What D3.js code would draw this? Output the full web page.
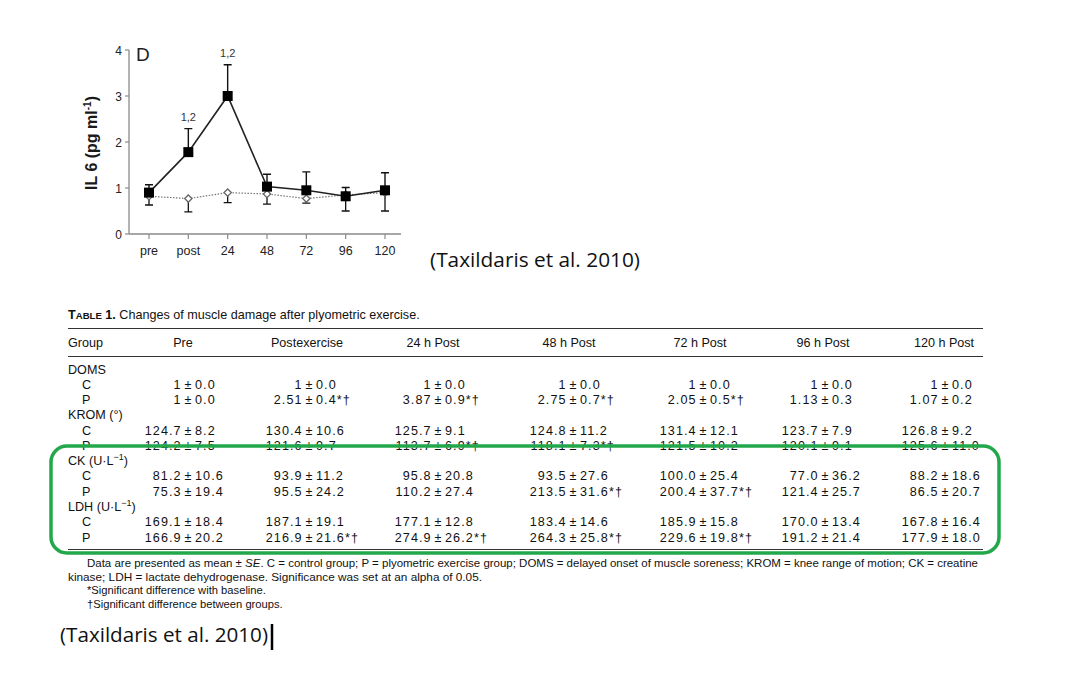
<!DOCTYPE html>
<html>
<head>
<meta charset="utf-8">
<script src="https://cdn.jsdelivr.net/npm/d3@7"></script>
<style>
body{margin:0;background:#fff;}
svg{display:block;}
</style>
</head>
<body>
<div id="chart"></div>
<script>
// IL-6 panel D
var times = ["pre","post","24","48","72","96","120"];
var plyoMean = [0.9, 1.78, 3.0, 1.03, 0.95, 0.82, 0.95];
var plyoUp   = [1.07, 2.29, 3.68, 1.3, 1.35, 1.01, 1.33];
var ctrlMean = [0.82, 0.77, 0.9, 0.87, 0.77, 0.85, 0.9];
var ctrlDown = [0.63, 0.48, 0.68, 0.65, 0.67, 0.5, 0.5];
var sigLabels = [null, "1,2", "1,2", null, null, null, null];
var yTicks = [0,1,2,3,4];

// table 1
var colHeads = ["Pre","Postexercise","24 h Post","48 h Post","72 h Post","96 h Post","120 h Post"];
var domsC = ["1 ± 0.0","1 ± 0.0","1 ± 0.0","1 ± 0.0","1 ± 0.0","1 ± 0.0","1 ± 0.0"];
var domsP = ["1 ± 0.0","2.51 ± 0.4*†","3.87 ± 0.9*†","2.75 ± 0.7*†","2.05 ± 0.5*†","1.13 ± 0.3","1.07 ± 0.2"];
var kromC = ["124.7 ± 8.2","130.4 ± 10.6","125.7 ± 9.1","124.8 ± 11.2","131.4 ± 12.1","123.7 ± 7.9","126.8 ± 9.2"];
var kromP = ["124.2 ± 7.5","121.6 ± 9.7","113.7 ± 6.9*†","118.1 ± 7.3*†","121.5 ± 10.2","120.1 ± 9.1","125.6 ± 11.0"];
var ckC = ["81.2 ± 10.6","93.9 ± 11.2","95.8 ± 20.8","93.5 ± 27.6","100.0 ± 25.4","77.0 ± 36.2","88.2 ± 18.6"];
var ckP = ["75.3 ± 19.4","95.5 ± 24.2","110.2 ± 27.4","213.5 ± 31.6*†","200.4 ± 37.7*†","121.4 ± 25.7","86.5 ± 20.7"];
var ldhC = ["169.1 ± 18.4","187.1 ± 19.1","177.1 ± 12.8","183.4 ± 14.6","185.9 ± 15.8","170.0 ± 13.4","167.8 ± 16.4"];
var ldhP = ["166.9 ± 20.2","216.9 ± 21.6*†","274.9 ± 26.2*†","264.3 ± 25.8*†","229.6 ± 19.8*†","191.2 ± 21.4","177.9 ± 18.0"];

var W = 1080, H = 675;
var svg = d3.select("#chart").append("svg").attr("width",W).attr("height",H);
svg.append("rect").attr("width",W).attr("height",H).attr("fill","#fff");

// ---- chart ----
var x = d3.scalePoint().domain(times).range([149, 385]);
var y = d3.scaleLinear().domain([0,4]).range([234, 50]);
var g = svg.append("g").style("font-family","Liberation Sans, Arial, sans-serif");

var axCol = "#8a8a8a";
g.append("line").attr("x1",129).attr("x2",401).attr("y1",y(0)).attr("y2",y(0)).attr("stroke",axCol).attr("stroke-width",1.3);
g.append("line").attr("x1",129).attr("x2",129).attr("y1",y(0)).attr("y2",y(4)).attr("stroke",axCol).attr("stroke-width",1.3);
g.selectAll(".yt").data(yTicks).enter().append("line")
  .attr("x1",125).attr("x2",129).attr("y1",function(d){return y(d)}).attr("y2",function(d){return y(d)})
  .attr("stroke",axCol).attr("stroke-width",1.2);
g.selectAll(".yl").data(yTicks).enter().append("text")
  .attr("x",122).attr("y",function(d){return y(d)+4.5}).attr("text-anchor","end")
  .attr("font-size",12).attr("fill","#222").text(function(d){return d});
g.selectAll(".xt").data(times).enter().append("line")
  .attr("x1",function(d){return x(d)}).attr("x2",function(d){return x(d)})
  .attr("y1",y(0)).attr("y2",y(0)+5).attr("stroke",axCol).attr("stroke-width",1.2);
g.selectAll(".xl").data(times).enter().append("text")
  .attr("x",function(d){return x(d)}).attr("y",255).attr("text-anchor","middle")
  .attr("font-size",12.5).attr("fill","#222").text(function(d){return d});

g.append("text").attr("transform","translate(97,143) rotate(-90)").attr("text-anchor","middle")
  .attr("font-size",16).attr("font-weight","bold").attr("fill","#1a1a1a")
  .html('IL 6 (pg ml<tspan dy="-6" font-size="10">-1</tspan><tspan dy="6">)</tspan>');
g.append("text").attr("x",136).attr("y",61).attr("font-size",19).attr("fill","#222").text("D");

// control series (dotted, open diamonds, error down)
g.selectAll(".ce").data(times).enter().append("path")
  .attr("d",function(d,i){var xx=x(d),a=y(ctrlMean[i]),b=y(ctrlDown[i]);
    return "M"+xx+","+a+"V"+b+"M"+(xx-4)+","+b+"H"+(xx+4);})
  .attr("stroke","#111").attr("stroke-width",1.3).attr("fill","none");
g.append("path").datum(ctrlMean)
  .attr("d",d3.line().x(function(d,i){return x(times[i])}).y(function(d){return y(d)}))
  .attr("fill","none").attr("stroke","#777").attr("stroke-width",1.2).attr("stroke-dasharray","1.5,1.5");
g.selectAll(".cm").data(ctrlMean).enter().append("path")
  .attr("d",d3.symbol().type(d3.symbolDiamond2).size(34))
  .attr("transform",function(d,i){return "translate("+x(times[i])+","+y(d)+")"})
  .attr("fill","#fff").attr("stroke","#666").attr("stroke-width",1.3);

// plyometric series (solid, filled squares, error up)
g.selectAll(".pe").data(times).enter().append("path")
  .attr("d",function(d,i){var xx=x(d),a=y(plyoMean[i]),b=y(plyoUp[i]);
    return "M"+xx+","+a+"V"+b+"M"+(xx-4)+","+b+"H"+(xx+4);})
  .attr("stroke","#111").attr("stroke-width",1.4).attr("fill","none");
g.append("path").datum(plyoMean)
  .attr("d",d3.line().x(function(d,i){return x(times[i])}).y(function(d){return y(d)}))
  .attr("fill","none").attr("stroke","#222").attr("stroke-width",1.6);
g.selectAll(".pm").data(plyoMean).enter().append("rect")
  .attr("x",function(d,i){return x(times[i])-5}).attr("y",function(d){return y(d)-5})
  .attr("width",10).attr("height",10).attr("fill","#000");

g.selectAll(".sig").data(times.filter(function(d,i){return sigLabels[i]})).enter().append("text")
  .attr("x",function(d){return x(d)})
  .attr("y",function(d){var i=times.indexOf(d);return y(plyoUp[i])-8})
  .attr("text-anchor","middle").attr("font-size",11).attr("fill","#333")
  .text(function(d){return sigLabels[times.indexOf(d)]});

var cite = "Open Sans, Lato, sans-serif";
svg.append("text").attr("x",430).attr("y",267).attr("font-family",cite).attr("font-size",19.5)
  .attr("textLength",210).attr("lengthAdjust","spacingAndGlyphs")
  .attr("fill","#111").text("(Taxildaris et al. 2010)");

// ---- table ----
var t = svg.append("g").style("font-family","Liberation Sans, Arial, sans-serif").attr("fill","#111");
var fs = 12.6;
t.append("text").attr("x",68).attr("y",319).attr("font-size",12.6)
  .html('<tspan font-weight="bold">T</tspan><tspan font-weight="bold" font-size="9.6">ABLE</tspan><tspan font-weight="bold"> 1.</tspan> Changes of muscle damage after plyometric exercise.');
t.append("line").attr("x1",68).attr("x2",983).attr("y1",328.5).attr("y2",328.5).attr("stroke","#333").attr("stroke-width",1);
t.append("line").attr("x1",68).attr("x2",983).attr("y1",356.5).attr("y2",356.5).attr("stroke","#333").attr("stroke-width",1);
t.append("line").attr("x1",68).attr("x2",983).attr("y1",549.5).attr("y2",549.5).attr("stroke","#333").attr("stroke-width",1.2);

var pmX = [188, 309, 438, 573, 703, 825, 945];
var headX = [183, 307, 433, 569, 700, 823, 944];
t.append("text").attr("x",68).attr("y",347).attr("font-size",fs).text("Group");
t.selectAll(".hd").data(colHeads).enter().append("text")
  .attr("x",function(d,i){return headX[i]}).attr("y",347).attr("text-anchor","middle")
  .attr("font-size",fs).text(function(d){return d});

var rows = [
  {lab:"DOMS"},{lab:"C",v:domsC},{lab:"P",v:domsP},
  {lab:"KROM (°)"},{lab:"C",v:kromC},{lab:"P",v:kromP},
  {lab:'CK (U·L<tspan dy="-5" font-size="9">−1</tspan><tspan dy="5">)</tspan>'},{lab:"C",v:ckC},{lab:"P",v:ckP},
  {lab:'LDH (U·L<tspan dy="-5" font-size="9">−1</tspan><tspan dy="5">)</tspan>'},{lab:"C",v:ldhC},{lab:"P",v:ldhP}
];
var rowY = d3.scaleLinear().domain([0,11]).range([373.5,541.5]);
rows.forEach(function(r,ri){
  var yy = rowY(ri);
  t.append("text").attr("x",r.v?82:68).attr("y",yy).attr("font-size",fs).html(r.lab);
  if(!r.v) return;
  r.v.forEach(function(s,ci){
    var parts = s.split(" ± ");
    t.append("text").attr("x",pmX[ci]-6.3).attr("y",yy).attr("text-anchor","end").attr("font-size",fs)
      .attr("letter-spacing",1.1).text(parts[0]);
    t.append("text").attr("x",pmX[ci]).attr("y",yy).attr("text-anchor","middle").attr("font-size",fs).text("±");
    t.append("text").attr("x",pmX[ci]+7).attr("y",yy).attr("font-size",fs)
      .attr("letter-spacing",1.1).text(parts[1]);
  });
});

// green highlight
svg.append("rect").attr("x",51).attr("y",446).attr("width",948).attr("height",107).attr("rx",16)
  .attr("fill","none").attr("stroke","#22a84a").attr("stroke-width",3.5);

// footnotes
var fn = t.append("g").attr("font-size",11.2);
fn.append("text").attr("x",87).attr("y",567).attr("textLength",891).attr("lengthAdjust","spacingAndGlyphs")
  .html('Data are presented as mean ± <tspan font-style="italic">SE</tspan>. C = control group; P = plyometric exercise group; DOMS = delayed onset of muscle soreness; KROM = knee range of motion; CK = creatine');
fn.append("text").attr("x",68).attr("y",580.5).attr("textLength",414).attr("lengthAdjust","spacingAndGlyphs")
  .text("kinase; LDH = lactate dehydrogenase. Significance was set at an alpha of 0.05.");
fn.append("text").attr("x",87).attr("y",594).text("*Significant difference with baseline.");
fn.append("text").attr("x",87).attr("y",607.5).text("†Significant difference between groups.");

svg.append("text").attr("x",60).attr("y",642).attr("font-family",cite).attr("font-size",19.5)
  .attr("textLength",208).attr("lengthAdjust","spacingAndGlyphs")
  .attr("fill","#111").text("(Taxildaris et al. 2010)");
svg.append("line").attr("x1",272).attr("x2",272).attr("y1",624).attr("y2",650).attr("stroke","#000").attr("stroke-width",2.5);
</script>
</body>
</html>
